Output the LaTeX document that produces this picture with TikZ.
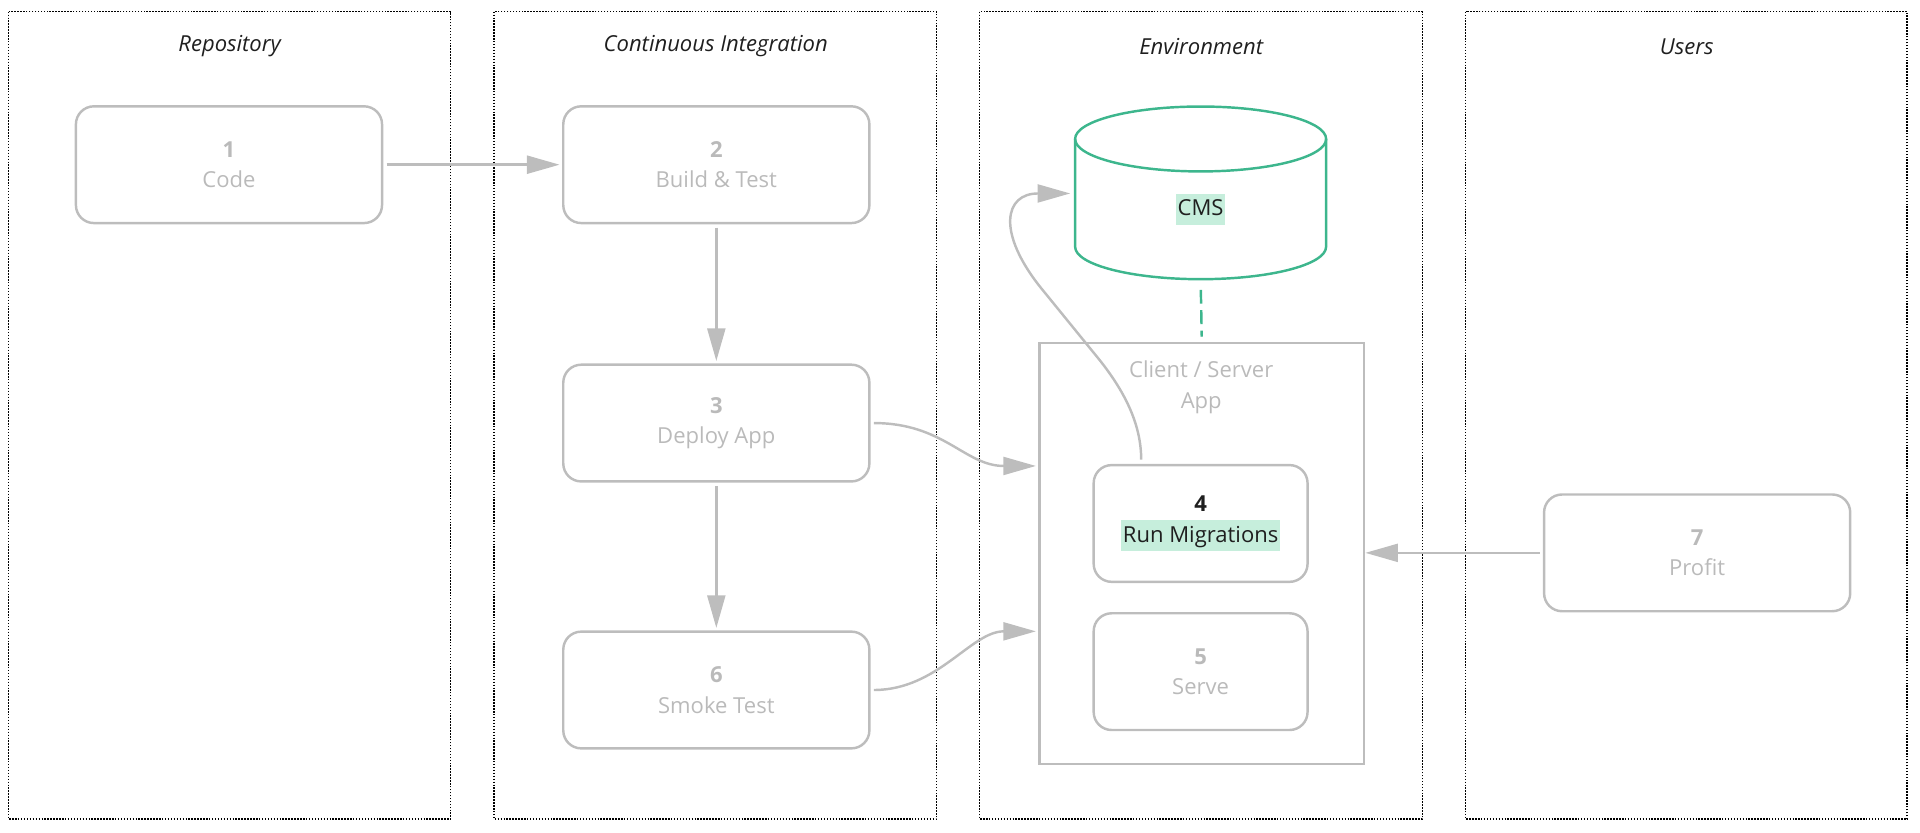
\documentclass[tikz,border=0pt]{standalone}
\usepackage{fontspec}
\setmainfont{Open Sans}
\usetikzlibrary{arrows.meta}
\usetikzlibrary{positioning}

\definecolor{linegray}{HTML}{BDBDBD}
\definecolor{textgray}{HTML}{BABABA}
\definecolor{titleblack}{HTML}{1F1F1F}
\definecolor{cmsgreen}{HTML}{3DB68D}
\definecolor{hlgreen}{HTML}{C6EEDC}

\newcommand{\boxfont}{\fontsize{13.5}{18.75}\selectfont}
\newcommand{\hlbox}[1]{{\setlength{\fboxsep}{0pt}\colorbox{hlgreen}{\rule[-5.5pt]{0pt}{19pt}\kern1pt#1\kern1pt}}}

\begin{document}
\begin{tikzpicture}[x=0.75pt, y=-0.75pt,
    lane/.style={draw=black, line width=0.9pt, dash pattern=on 0.9pt off 0.9pt},
    lanetitle/.style={font=\boxfont\itshape, text=titleblack},
    stepbox/.style={draw=linegray, line width=1.5pt, rounded corners=11pt,
        minimum width=187.5pt, minimum height=71.5pt, align=center,
        text=textgray, font=\boxfont},
    smallbox/.style={stepbox, minimum width=131pt},
    cmsline/.style={draw=cmsgreen, line width=1.5pt},
    flow/.style={draw=linegray, line width=1.5pt, -{Triangle[length=20pt,width=11pt]},
        shorten <=2pt, shorten >=1.5pt}]

        \useasboundingbox (0,0) rectangle (1568,679.5);

        % lanes
        \draw[lane] (7,9.5) rectangle (368,669);
        \draw[lane] (403.5,9.5) rectangle (765,669);
        \draw[lane] (800,9.5) rectangle (1161.5,669);
        \draw[lane] (1197,9.5) rectangle (1557.5,669);

        \node[lanetitle] (trepo) at (187.5,38) {Repository};
        \node[lanetitle] (tci) at (584.5,38) {Continuous Integration};
        \node[lanetitle] (tenv) at (981,38) {Environment};
        \node[lanetitle] (tusers) at (1377.5,38) {Users};

        % steps
        \node[stepbox] (code) at (187,134.5) {\textbf{1}\\Code};
        \node[stepbox] (build) at (585,134.5) {\textbf{2}\\Build \& Test};
        \node[stepbox] (deploy) at (585,345.5) {\textbf{3}\\Deploy App};
        \node[stepbox] (smoke) at (585,563.5) {\textbf{6}\\Smoke Test};
        \node[stepbox] (profit) at (1386,451.5) {\textbf{7}\\Profit};

        % client / server app
        \node[draw=linegray, line width=1.5pt, minimum width=198.75pt, minimum height=258pt] (client) at (981.5,452) {};
        \node[align=center, text=textgray, font=\boxfont] (cslabel) at (981,316.5) {Client / Server\\App};
        \node[smallbox, text=titleblack] (run) at (980.5,427.5) {\textbf{4}\\\hlbox{Run Migrations}};
        \node[smallbox] (serve) at (980.5,548.5) {\textbf{5}\\Serve};

        % cms
        \draw[cmsline] (878,113.5) -- (878,201.5) arc[start angle=180, end angle=360, x radius=76.875pt, y radius=19.875pt] -- (1083,113.5);
        \draw[cmsline] (980.5,113.5) ellipse[x radius=76.875pt, y radius=19.875pt];
        \node[font=\boxfont, text=titleblack] (cms) at (980.5,171) {\hlbox{CMS}};
        \coordinate (cmsin) at (876,158);
        \coordinate (cmsbot) at (980.5,228);

        \draw[cmsline, dash pattern=on 8.5pt off 4pt, shorten <=6.5pt, shorten >=3pt] (cmsbot) -- (client.north);

        % flows
        \draw[flow] (code) -- (build);
        \draw[flow] (build) -- (deploy);
        \draw[flow] (deploy) -- (smoke);
        \draw[flow] (deploy.east) .. controls +(60,0) and +(-60,0) .. ([yshift=53.6pt]client.west);
        \draw[flow] (smoke.east) .. controls +(55,0) and +(-55,0) .. ([yshift=-47.7pt]client.west);
        \draw[flow, shorten <=0pt] ([xshift=-36.4pt,yshift=2.6pt]run.north) .. controls (932,345) and (917,318) .. (898,294) -- (850,235) .. controls (814,190) and (820,158) .. (cmsin);
        \draw[flow, shorten >=0pt] (profit.west) -- (profit.west -| client.east);

      \end{tikzpicture}
\end{document}
